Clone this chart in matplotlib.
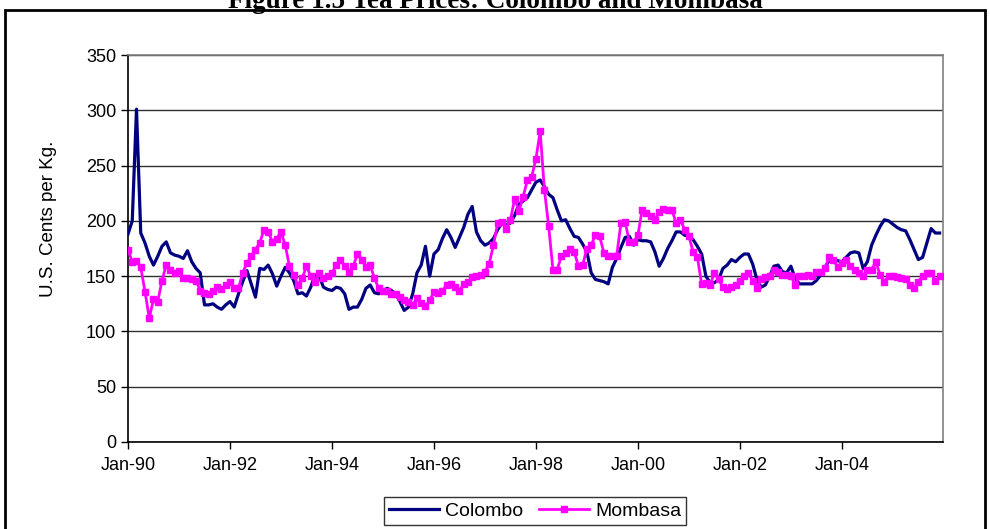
import numpy as np
import matplotlib
matplotlib.use("Agg")
import matplotlib.pyplot as plt
from matplotlib.patches import Rectangle

plt.rcParams['font.family'] = ['Liberation Sans', 'DejaVu Sans']

# Monthly tea auction prices, US cents per kg, Jan-1990 .. Dec-2005
colombo = [
    188, 200, 301, 189, 180, 168, 160, 168, 177, 181, 171, 169,   # 1990
    168, 166, 173, 163, 157, 153, 124, 124, 125, 122, 120, 124,   # 1991
    127, 122, 134, 145, 155, 143, 131, 157, 156, 160, 152, 141,   # 1992
    150, 158, 153, 146, 134, 135, 132, 140, 151, 150, 140, 138,   # 1993
    137, 140, 139, 134, 120, 122, 122, 129, 139, 142, 135, 134,   # 1994
    137, 139, 137, 134, 127, 119, 122, 134, 153, 160, 177, 150,   # 1995
    170, 174, 184, 192, 185, 176, 185, 194, 206, 213, 190, 182,   # 1996
    178, 180, 184, 192, 198, 196, 198, 205, 215, 218, 221, 228,   # 1997
    235, 237, 231, 224, 221, 210, 200, 201, 193, 186, 185, 179,   # 1998
    172, 153, 147, 146, 145, 143, 158, 166, 176, 185, 186, 178,   # 1999
    183, 182, 182, 181, 172, 159, 166, 175, 182, 190, 190, 187,   # 2000
    186, 183, 177, 170, 150, 144, 144, 147, 157, 160, 165, 163,   # 2001
    167, 170, 170, 161, 147, 140, 142, 150, 159, 160, 154, 153,   # 2002
    159, 148, 143, 143, 143, 143, 146, 151, 158, 164, 166, 164,   # 2003
    163, 167, 171, 172, 171, 157, 163, 178, 187, 195, 201, 200,   # 2004
    197, 194, 192, 191, 183, 174, 165, 167, 180, 193, 189, 189,   # 2005
]

mombasa = [
    174, 163, 164, 158, 136, 112, 129, 127, 146, 160, 156, 153,   # 1990
    155, 148, 148, 147, 146, 137, 135, 134, 137, 140, 138, 142,   # 1991
    145, 139, 139, 153, 162, 168, 174, 180, 192, 190, 181, 184,   # 1992
    190, 178, 159, 151, 142, 148, 159, 150, 145, 153, 148, 150,   # 1993
    153, 160, 165, 159, 154, 159, 170, 165, 158, 160, 148, 139,   # 1994
    137, 137, 134, 134, 131, 128, 127, 124, 130, 126, 123, 128,   # 1995
    136, 135, 137, 142, 143, 140, 137, 143, 145, 149, 150, 151,   # 1996
    154, 161, 178, 198, 199, 193, 201, 220, 209, 222, 237, 240,   # 1997
    256, 281, 228, 195, 156, 156, 168, 171, 175, 172, 159, 160,   # 1998
    175, 178, 187, 186, 171, 168, 168, 168, 198, 199, 181, 181,   # 1999
    187, 210, 207, 204, 201, 208, 211, 210, 210, 198, 201, 192,   # 2000
    186, 172, 167, 143, 144, 142, 153, 147, 140, 138, 140, 142,   # 2001
    146, 150, 153, 146, 139, 147, 149, 150, 156, 154, 151, 151,   # 2002
    150, 142, 150, 150, 151, 150, 154, 154, 157, 167, 165, 158,   # 2003
    162, 165, 159, 156, 153, 150, 156, 156, 163, 151, 145, 150,   # 2004
    150, 149, 148, 147, 142, 139, 145, 150, 153, 153, 146, 150,   # 2005
]

tick_labels = ["Jan-90", "Jan-92", "Jan-94", "Jan-96",
               "Jan-98", "Jan-00", "Jan-02", "Jan-04"]
y_ticks = [0, 50, 100, 150, 200, 250, 300, 350]

months = np.arange(len(colombo))

fig = plt.figure(figsize=(9.9, 5.29), dpi=100)
ax = fig.add_axes([128 / 990, 1 - 442 / 529, (943 - 128) / 990, (442 - 55) / 529])

ax.plot(months, colombo, color="#000080", lw=2.3, label="Colombo", zorder=3)
ax.plot(months, mombasa, color="#FF00FF", lw=2.0, marker="s", ms=4.5,
        mec="#FF00FF", mfc="#FF00FF", label="Mombasa", zorder=4)

ax.set_xlim(0, 191.8)
ax.set_ylim(0, 350)
ax.set_yticks(y_ticks)
ax.set_xticks(np.arange(0, 24 * len(tick_labels), 24))
ax.set_xticklabels(tick_labels)
ax.tick_params(axis="both", labelsize=13, direction="out", length=5,
               width=1, color="black")
ax.tick_params(axis="x", pad=6)
ax.yaxis.grid(True, color="#303030", lw=1.0)
ax.set_axisbelow(True)

for side in ("left", "bottom"):
    ax.spines[side].set_color("black")
    ax.spines[side].set_linewidth(1.2)
for side in ("top", "right"):
    ax.spines[side].set_color("#808080")
    ax.spines[side].set_linewidth(1.2)

ax.set_ylabel("U.S. Cents per Kg.", fontsize=13.5)
ax.yaxis.set_label_coords(-0.087, 0.576)

leg = fig.legend(loc="center", bbox_to_anchor=(535 / 990, 1 - 511 / 529),
                 ncol=2, frameon=True, fancybox=False, fontsize=14,
                 handlelength=2.6, handletextpad=0.3, columnspacing=0.8,
                 borderpad=0.25, borderaxespad=0)
leg.get_frame().set_edgecolor("black")
leg.get_frame().set_linewidth(1.0)

# outer chart frame
fig.patches.append(Rectangle((5 / 990, -0.02), 980 / 990, 1 - 10 / 529 + 0.02,
                             transform=fig.transFigure, fill=False,
                             edgecolor="black", lw=2.0, zorder=0))

fig.text(0.5, 1 - 1 / 529, "Figure 1.5 Tea Prices: Colombo and Mombasa",
         ha="center", va="center", fontsize=19.5, fontweight="bold",
         family=["Liberation Serif", "DejaVu Serif"])

fig.savefig("out.png", dpi=100)
